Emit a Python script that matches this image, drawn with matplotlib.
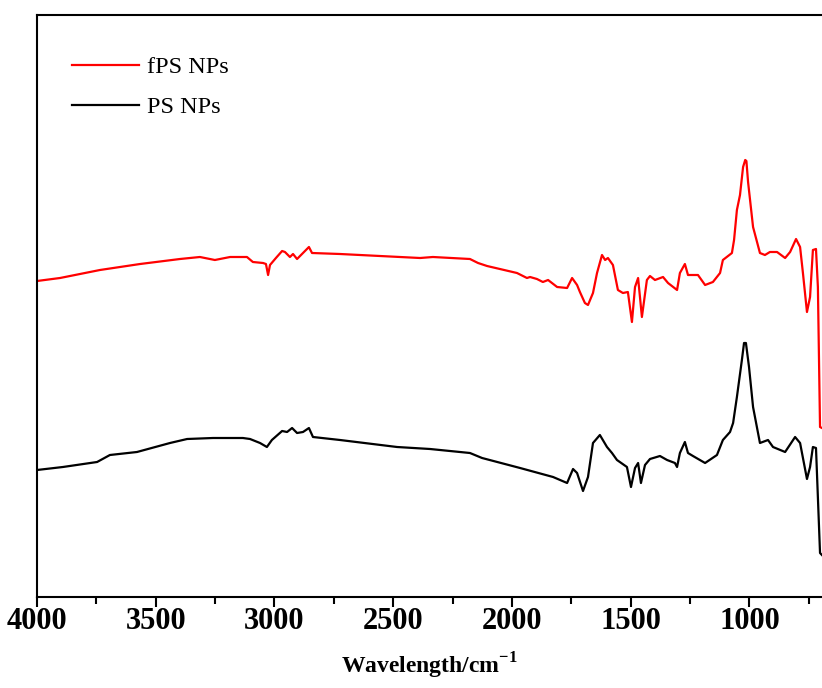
import matplotlib
matplotlib.use("Agg")
import matplotlib.pyplot as plt
from matplotlib.ticker import MultipleLocator

plt.rcParams['font.family'] = ['Liberation Serif', 'DejaVu Serif']
plt.rcParams['mathtext.fontset'] = 'custom'
plt.rcParams['mathtext.rm'] = 'Liberation Serif'
plt.rcParams['mathtext.bf'] = 'Liberation Serif:bold'

# ---- data (wavenumber cm^-1, intensity a.u.) ----
fps_wn = [4000, 3903, 3735, 3566, 3398, 3314, 3251, 3187, 3116, 3091, 3048, 3036, 3027, 3019,
          2994, 2968, 2956, 2935, 2922, 2905, 2880, 2855, 2842, 2724, 2556, 2387, 2333, 2177,
          2143, 2105, 1979, 1937, 1924, 1895, 1870, 1848, 1810, 1768, 1747, 1726, 1714, 1693,
          1680, 1659, 1642, 1621, 1608, 1596, 1575, 1554, 1533, 1512, 1495, 1482, 1469, 1453,
          1432, 1419, 1398, 1364, 1343, 1305, 1293, 1272, 1259, 1217, 1187, 1154, 1124, 1112,
          1074, 1065, 1053, 1040, 1027, 1018, 1013, 1006, 985, 956, 935, 914, 884, 850, 829, 804,
          787, 775, 758, 745, 733, 720, 712, 703, 695]
fps_val = [31.6, 31.9, 32.7, 33.3, 33.8, 34.0, 33.7, 34.0, 34.0, 33.5, 33.4, 33.3, 32.2, 33.2,
           33.9, 34.6, 34.5, 34.0, 34.3, 33.8, 34.4, 35.0, 34.4, 34.3, 34.1, 33.9, 34.0, 33.8,
           33.4, 33.1, 32.4, 31.9, 32.0, 31.8, 31.5, 31.7, 31.0, 30.9, 31.9, 31.2, 30.5, 29.4,
           29.2, 30.4, 32.4, 34.2, 33.7, 33.9, 33.2, 30.7, 30.4, 30.5, 27.5, 31.0, 31.9, 28.0,
           31.7, 32.1, 31.7, 32.0, 31.4, 30.7, 32.4, 33.3, 32.2, 32.2, 31.2, 31.5, 32.4, 33.7,
           34.4, 35.7, 38.7, 40.2, 43.0, 43.7, 43.6, 41.5, 37.0, 34.4, 34.2, 34.5, 34.5, 33.9, 34.5, 35.8,
           35.0, 32.4, 28.5, 30.0, 34.7, 34.8, 31.0, 17.0, 16.9]

ps_wn = [4000, 3891, 3747, 3693, 3579, 3440, 3368, 3259, 3133, 3103, 3061, 3032, 3011, 2968,
         2947, 2926, 2905, 2880, 2855, 2838, 2724, 2484, 2345, 2177, 2126, 1966, 1827, 1768,
         1743, 1726, 1701, 1680, 1659, 1630, 1600, 1579, 1558, 1516, 1499, 1482, 1469, 1457,
         1440, 1419, 1377, 1347, 1314, 1305, 1293, 1272, 1259, 1238, 1187, 1137, 1112, 1082,
         1069, 1053, 1032, 1023, 1015, 1002, 985, 956, 922, 901, 850, 808, 787, 758, 745, 733,
         720, 703, 695]
ps_val = [12.7, 13.0, 13.5, 14.2, 14.5, 15.4, 15.8, 15.9, 15.9, 15.8, 15.4, 15.0, 15.7, 16.6,
          16.5, 16.9, 16.4, 16.5, 16.9, 16.0, 15.7, 15.0, 14.8, 14.4, 13.9, 12.9, 12.0, 11.4,
          12.8, 12.4, 10.6, 12.0, 15.4, 16.2, 15.0, 14.4, 13.7, 13.0, 11.0, 12.9, 13.4, 11.4,
          13.2, 13.8, 14.1, 13.7, 13.4, 13.0, 14.4, 15.5, 14.4, 14.1, 13.4, 14.2, 15.7, 16.5,
          17.4, 20.0, 23.7, 25.4, 25.4, 23.0, 19.0, 15.4, 15.7, 15.0, 14.5, 16.0, 15.4, 11.8, 13.0, 15.0,
          14.9, 4.4, 4.2]

series_labels = ['fPS NPs', 'PS NPs']
x_ticks = [4000, 3500, 3000, 2500, 2000, 1500, 1000]

fig = plt.figure(figsize=(8.22, 6.88), dpi=100)
ax = fig.add_axes([37/822, 91/688, 1 - 37/822, 582/688])

ax.plot(fps_wn, fps_val, color='#ff0000', lw=1.6, label=series_labels[0])
ax.plot(ps_wn, ps_val, color='black', lw=1.6, label=series_labels[1])

ax.set_xlim(4000, 694.7)
ax.set_ylim(0, 58.2)
ax.set_xticks(x_ticks)
ax.set_xticklabels([str(t) for t in x_ticks])
ax.xaxis.set_minor_locator(MultipleLocator(250))
ax.set_yticks([])
ax.spines['right'].set_visible(False)
for s in ['left', 'top', 'bottom']:
    ax.spines[s].set_linewidth(1.5)
ax.tick_params(axis='x', which='major', direction='out', length=7, width=1.5,
               labelsize=22, pad=0)
ax.tick_params(axis='x', which='minor', direction='out', length=5, width=1.5)
for lab in ax.get_xticklabels():
    lab.set_fontweight('bold')

ax.set_xlabel(r'Wavelength/cm$^{\mathbf{-1}}$', fontsize=17, fontweight='bold', labelpad=11)

leg = ax.legend(loc='upper left', bbox_to_anchor=(72/822, 1 - 56/688),
                bbox_transform=fig.transFigure, frameon=False, fontsize=17.5,
                handlelength=2.75, handletextpad=0.34, labelspacing=0.75,
                borderpad=0, borderaxespad=0)

fig.savefig('out.png', dpi=100)
